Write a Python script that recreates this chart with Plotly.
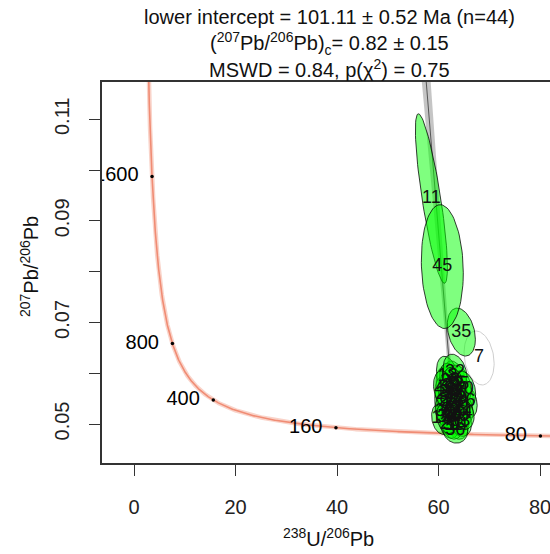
import numpy as np
import plotly.graph_objects as go

# Decay constants (1/yr) and present-day 238U/235U
LAMBDA_238 = 1.55125e-10
LAMBDA_235 = 9.8485e-10
U238_U235 = 137.818

# Aliquot measurements: 238U/206Pb and 207Pb/206Pb, 1-sigma errors, error correlation
aliquot_id = list(range(1, 46))
u238_pb206 = [62.4, 63.6, 61.6, 63.0, 64.4, 62.0, 68.0, 63.2, 61.2, 64.0,
              58.6, 62.6, 62.5, 63.8, 60.6, 65.3, 62.9, 61.8, 63.4, 62.2,
              64.6, 61.4, 63.1, 62.7, 64.1, 61.9, 63.5, 62.3, 63.7, 61.3,
              62.8, 63.25, 64.3, 62.1, 64.5, 63.3, 62.5, 63.9, 61.7, 65.0,
              62.9, 63.0, 61.1, 64.8, 60.75]
u238_pb206_err = [0.90, 0.95, 0.85, 0.80, 1.00, 0.90, 1.21, 0.95, 0.80, 0.90,
                  1.29, 0.85, 0.90, 0.85, 0.80, 0.95, 0.80, 0.90, 0.85, 0.80,
                  0.90, 0.85, 0.80, 0.85, 0.95, 0.80, 0.90, 0.85, 0.85, 0.80,
                  0.80, 0.95, 0.90, 0.85, 1.13, 1.00, 0.80, 0.90, 0.85, 0.95,
                  0.75, 0.85, 0.85, 0.90, 1.69]
pb207_pb206 = [0.0552, 0.0531, 0.0574, 0.0508, 0.0560, 0.0521, 0.0630, 0.0585, 0.0540, 0.0515,
               0.0944, 0.0534, 0.0570, 0.0498, 0.0510, 0.0545, 0.0560, 0.0593, 0.0518, 0.0500,
               0.0530, 0.0558, 0.0545, 0.0515, 0.0578, 0.0545, 0.0565, 0.0583, 0.0548, 0.0525,
               0.0497, 0.0602, 0.0505, 0.0562, 0.0681, 0.0488, 0.0526, 0.0540, 0.0512, 0.0568,
               0.0530, 0.0575, 0.0568, 0.0520, 0.0810]
pb207_pb206_err = [0.00140, 0.00130, 0.00155, 0.00120, 0.00150, 0.00135, 0.00217, 0.00160, 0.00140, 0.00125,
                   0.00682, 0.00130, 0.00150, 0.00115, 0.00125, 0.00140, 0.00135, 0.00165, 0.00120, 0.00115,
                   0.00135, 0.00145, 0.00130, 0.00125, 0.00155, 0.00140, 0.00145, 0.00150, 0.00135, 0.00130,
                   0.00110, 0.00145, 0.00120, 0.00145, 0.00193, 0.00105, 0.00125, 0.00135, 0.00125, 0.00150,
                   0.00125, 0.00150, 0.00150, 0.00125, 0.00498]
err_corr = [-0.25, -0.20, -0.30, -0.15, -0.25, -0.20, -0.20, -0.30, -0.25, -0.20,
            -0.81, -0.20, -0.25, -0.15, -0.20, -0.25, -0.20, -0.30, -0.20, -0.15,
            -0.20, -0.25, -0.20, -0.20, -0.30, -0.25, -0.25, -0.30, -0.20, -0.20,
            -0.15, -0.25, -0.20, -0.25, -0.30, -0.10, -0.20, -0.20, -0.20, -0.25,
            -0.20, -0.25, -0.25, -0.20, -0.10]
omitted_ids = [7]

# Discordia regression results
lower_intercept_ma = 101.11
lower_intercept_err = 0.52
pb76_common = 0.82
pb76_common_err = 0.15
mswd = 0.84
p_chi2 = 0.75
n_fit = 44

# Concordia age ticks (Ma)
concordia_tick_ages = [80, 160, 400, 800, 1600]

# Axis ticks
x_tick_vals = [0, 20, 40, 60, 80]
y_tick_vals = [0.05, 0.07, 0.09, 0.11]
y_minor_vals = [0.06, 0.08, 0.10]

X_RANGE = [-6.31, 81.97]
Y_RANGE = [0.04232, 0.11735]
W, H = 550, 554
M_L, M_R, M_T, M_B = 102, 0, 82, 91

FONT = "Liberation Sans, Arial, Helvetica, sans-serif"
K95 = np.sqrt(-2 * np.log(0.05))  # 95% confidence ellipse scale (2 dof)


def tw_concordia(t_ma):
    t = np.asarray(t_ma, dtype=float) * 1e6
    e238 = np.exp(LAMBDA_238 * t) - 1
    e235 = np.exp(LAMBDA_235 * t) - 1
    return 1 / e238, e235 / e238 / U238_U235


def ellipse_path(x, sx, y, sy, rho, n=90):
    th = np.linspace(0, 2 * np.pi, n)
    ex = x + K95 * sx * np.cos(th)
    ey = y + K95 * sy * (rho * np.cos(th) + np.sqrt(1 - rho ** 2) * np.sin(th))
    return ex, ey


fig = go.Figure()

# Concordia curve
ages = np.geomspace(70, 2200, 800)
cx, cy = tw_concordia(ages)
fig.add_trace(go.Scatter(x=cx, y=cy, mode="lines",
                         line=dict(color="rgba(244,168,148,0.5)", width=4.5),
                         hoverinfo="skip", showlegend=False))
fig.add_trace(go.Scatter(x=cx, y=cy, mode="lines",
                         line=dict(color="rgb(240,140,116)", width=1.6),
                         hoverinfo="skip", showlegend=False))

# Discordia line with its confidence envelope
x_t, y_t = tw_concordia(lower_intercept_ma)
x_t = float(x_t); y_t = float(y_t)
fit_mask = [i not in omitted_ids for i in aliquot_id]
piv_x = np.mean([v for v, m in zip(u238_pb206, fit_mask) if m])
piv_y = pb76_common + (y_t - pb76_common) * piv_x / x_t
yy = np.linspace(y_t, Y_RANGE[1] + 0.01, 200)
x_mid = x_t * (pb76_common - yy) / (pb76_common - y_t)
x_lo_t, _ = tw_concordia(lower_intercept_ma + lower_intercept_err)
x_hi_t, _ = tw_concordia(lower_intercept_ma - lower_intercept_err)
half_t = (float(x_hi_t) - float(x_lo_t)) / 2
xa = []
for a in (pb76_common - pb76_common_err, pb76_common + pb76_common_err):
    xa.append(piv_x * (a - yy) / (a - piv_y))
half_a = 0.75 * np.abs(xa[1] - xa[0]) / 2
half = np.sqrt(half_t ** 2 + half_a ** 2)
band_x = np.concatenate([x_mid - half, (x_mid + half)[::-1]])
band_y = np.concatenate([yy, yy[::-1]])
fig.add_trace(go.Scatter(x=band_x, y=band_y, mode="lines", fill="toself",
                         fillcolor="rgba(150,150,150,0.55)", line=dict(width=0),
                         hoverinfo="skip", showlegend=False))
fig.add_trace(go.Scatter(x=[0, x_t], y=[pb76_common, y_t], mode="lines",
                         line=dict(color="#555555", width=1),
                         hoverinfo="skip", showlegend=False))

# Error ellipses
for i, x, sx, y, sy, r in zip(aliquot_id, u238_pb206, u238_pb206_err,
                              pb207_pb206, pb207_pb206_err, err_corr):
    ex, ey = ellipse_path(x, sx, y, sy, r)
    if i in omitted_ids:
        fill, stroke = "rgba(255,255,255,0)", "rgb(200,200,200)"
    else:
        fill, stroke = "rgba(0,255,0,0.5)", "rgba(0,0,0,0.85)"
    fig.add_trace(go.Scatter(x=ex, y=ey, mode="lines", fill="toself",
                             fillcolor=fill, line=dict(color=stroke, width=0.9),
                             hoverinfo="skip", showlegend=False))

# Aliquot labels at ellipse centres
fig.add_trace(go.Scatter(x=u238_pb206, y=pb207_pb206, mode="text",
                         text=[str(i) for i in aliquot_id], textposition="middle center",
                         textfont=dict(family=FONT, size=18, color="#111111"),
                         hoverinfo="skip", showlegend=False))

# Concordia age ticks and labels
tx, ty = tw_concordia(concordia_tick_ages)
px_per_unit = (W - M_L - M_R) / (X_RANGE[1] - X_RANGE[0])
label_gap = 13.5 / px_per_unit
fig.add_trace(go.Scatter(x=tx, y=ty, mode="markers",
                         marker=dict(color="black", size=3.5),
                         hoverinfo="skip", showlegend=False))
fig.add_trace(go.Scatter(x=tx - label_gap, y=ty, mode="text",
                         text=[str(a) for a in concordia_tick_ages],
                         textposition="middle left",
                         textfont=dict(family=FONT, size=20, color="black"),
                         hoverinfo="skip", showlegend=False))

axis_common = dict(showgrid=False, zeroline=False, ticks="outside", ticklen=11,
                   tickwidth=1.3, tickcolor="#333333", showline=True,
                   linecolor="#333333", linewidth=1.5, ticklabeloverflow="allow",
                   tickfont=dict(family=FONT, size=20, color="#222222"))

fig.update_layout(
    width=W, height=H,
    margin=dict(l=M_L, r=M_R, t=M_T, b=M_B),
    paper_bgcolor="white", plot_bgcolor="white",
    xaxis=dict(range=X_RANGE, tickvals=x_tick_vals, mirror=True,
               ticklabelstandoff=14, **axis_common),
    yaxis=dict(range=Y_RANGE, tickvals=y_tick_vals,
               tickangle=-90, ticklabelstandoff=12,
               minor=dict(tickvals=y_minor_vals, ticks="outside", ticklen=11,
                          tickwidth=1.3, tickcolor="#333333", showgrid=False),
               **axis_common),
    showlegend=False,
)

title_lines = [
    f"lower intercept = {lower_intercept_ma:.2f} \u00b1 {lower_intercept_err:.2f} Ma (n={n_fit})",
    f"(<sup>207</sup>Pb/<sup>206</sup>Pb)<sub>c</sub>= {pb76_common:.2f} \u00b1 {pb76_common_err:.2f}",
    f"MSWD = {mswd:.2f}, p(\u03c7<sup>2</sup>) = {p_chi2:.2f}",
]
title_centres = [17, 43, 68]
plot_w = W - M_L - M_R
for line, yc in zip(title_lines, title_centres):
    fig.add_annotation(text=line, xref="paper", yref="paper",
                       x=(329 - M_L) / plot_w, y=1, yshift=M_T - yc,
                       xanchor="center", yanchor="middle", showarrow=False,
                       font=dict(family=FONT, size=20, color="#111111"))

fig.add_annotation(text="<sup>238</sup>U/<sup>206</sup>Pb", xref="paper", yref="paper",
                   x=(328 - M_L) / plot_w, y=0, yshift=-(537 - (H - M_B)),
                   xanchor="center", yanchor="middle", showarrow=False,
                   font=dict(family=FONT, size=20, color="#111111"))
fig.add_annotation(text="<sup>207</sup>Pb/<sup>206</sup>Pb", xref="paper", yref="paper",
                   x=0, xshift=-(M_L - 29), y=((H - M_B) - 267) / (H - M_T - M_B),
                   xanchor="center", yanchor="middle", textangle=-90, showarrow=False,
                   font=dict(family=FONT, size=20, color="#111111"))

fig.write_html("out.html")
